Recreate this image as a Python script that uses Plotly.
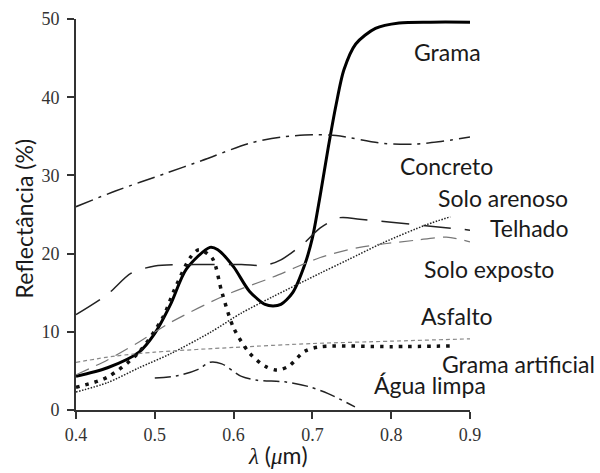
import plotly.graph_objects as go

# wavelength (um) / reflectance (%)
grama_x = [0.40, 0.44, 0.48, 0.50, 0.52, 0.54, 0.57, 0.58, 0.60, 0.62, 0.64, 0.65, 0.66, 0.675, 0.69, 0.70, 0.71, 0.72, 0.73, 0.74, 0.755, 0.78, 0.81, 0.85, 0.90]
grama_y = [4.3, 5.4, 7.4, 9.8, 13.5, 18.0, 20.8, 20.5, 18.3, 15.2, 13.5, 13.3, 13.5, 15.0, 18.5, 22.0, 27.5, 33.5, 39.0, 43.5, 46.8, 48.8, 49.5, 49.6, 49.6]

concreto_x = [0.40, 0.45, 0.515, 0.56, 0.62, 0.66, 0.70, 0.73, 0.79, 0.83, 0.86, 0.90]
concreto_y = [26.0, 28.0, 30.3, 31.9, 34.1, 34.9, 35.2, 35.1, 34.1, 34.0, 34.3, 34.9]

telhado_x = [0.40, 0.44, 0.47, 0.50, 0.55, 0.61, 0.64, 0.66, 0.69, 0.71, 0.735, 0.76, 0.80, 0.85, 0.90]
telhado_y = [12.2, 14.8, 17.5, 18.4, 18.6, 18.6, 18.5, 19.2, 21.4, 23.3, 24.6, 24.4, 24.0, 23.5, 23.0]

solo_arenoso_x = [0.40, 0.44, 0.48, 0.52, 0.57, 0.61, 0.65, 0.71, 0.745, 0.79, 0.845, 0.875]
solo_arenoso_y = [2.3, 3.5, 5.4, 7.2, 9.9, 12.4, 14.5, 17.5, 19.2, 21.4, 23.7, 24.7]

solo_exposto_x = [0.40, 0.44, 0.48, 0.52, 0.59, 0.65, 0.71, 0.76, 0.83, 0.87, 0.90]
solo_exposto_y = [4.5, 6.4, 8.7, 11.2, 14.7, 17.0, 19.5, 20.8, 21.7, 22.1, 21.5]

asfalto_x = [0.40, 0.45, 0.50, 0.60, 0.70, 0.80, 0.90]
asfalto_y = [6.1, 6.9, 7.4, 8.0, 8.5, 8.8, 9.1]

grama_art_x = [0.40, 0.44, 0.48, 0.51, 0.525, 0.545, 0.556, 0.573, 0.585, 0.60, 0.62, 0.64, 0.655, 0.67, 0.69, 0.71, 0.80, 0.88]
grama_art_y = [2.9, 4.2, 7.4, 11.8, 15.4, 19.5, 20.5, 19.4, 15.1, 10.5, 7.3, 5.6, 5.1, 5.6, 7.5, 8.1, 8.1, 8.2]

agua_x = [0.50, 0.53, 0.555, 0.57, 0.585, 0.61, 0.63, 0.665, 0.695, 0.72, 0.754]
agua_y = [4.1, 4.4, 5.2, 6.1, 5.9, 4.3, 3.8, 3.6, 3.0, 2.1, 0.4]

# label text and where it sits (um, %)
label_text = ['Grama', 'Concreto', 'Solo arenoso', 'Telhado', 'Solo exposto',
              'Asfalto', 'Grama artificial', 'Água limpa']
label_x = [0.872, 0.870, 0.942, 0.976, 0.924, 0.883, 0.961, 0.849]
label_y = [45.8, 31.2, 27.1, 23.3, 18.0, 12.0, 5.9, 3.2]

x_range = [0.4, 0.9]
y_range = [0, 50]

series = [
    (grama_x, grama_y, dict(color='black', width=3)),
    (concreto_x, concreto_y, dict(color='#222', width=1.5, dash='18px,6px,3px,6px')),
    (telhado_x, telhado_y, dict(color='#222', width=1.5, dash='28px,14px')),
    (solo_arenoso_x, solo_arenoso_y, dict(color='#222', width=1.5, dash='1.5px,1.5px')),
    (solo_exposto_x, solo_exposto_y, dict(color='#777', width=1.2, dash='14px,8px')),
    (asfalto_x, asfalto_y, dict(color='#888', width=1.2, dash='4px,3px')),
    (grama_art_x, grama_art_y, dict(color='#111', width=3.5, dash='3.5px,6px')),
    (agua_x, agua_y, dict(color='#222', width=1.5, dash='16px,5px,3px,5px')),
]

fig = go.Figure()
for xs, ys, ln in series:
    fig.add_trace(go.Scatter(x=xs, y=ys, mode='lines', line=dict(shape='spline', smoothing=0.8, **ln),
                             showlegend=False, hoverinfo='skip'))

label_font = dict(family='Lato', size=23, color='#1a1a1a')
for t, lx, ly in zip(label_text, label_x, label_y):
    # labels run past the right end of the axis, so place them in domain units
    fig.add_annotation(x=(lx - x_range[0]) / (x_range[1] - x_range[0]), xref='x domain',
                       y=(ly - y_range[0]) / (y_range[1] - y_range[0]), yref='y domain',
                       text=t, showarrow=False, xanchor='center', yanchor='middle', font=label_font)

# axis titles
fig.add_annotation(x=-0.132, y=0.49, xref='paper', yref='paper', text='Reflectância (%)',
                   textangle=-90, showarrow=False, xanchor='center', yanchor='middle', font=label_font)
fig.add_annotation(x=0.513, y=-0.115, xref='paper', yref='paper',
                   text='<span style="font-family:Liberation Serif"><i>λ</i></span> '
                        '(<span style="font-family:Liberation Serif"><i>μ</i></span>m)',
                   showarrow=False, xanchor='center', yanchor='middle', font=label_font)

axis_common = dict(showline=True, linecolor='#333', linewidth=2, ticks='outside', ticklen=7,
                   tickwidth=2, tickcolor='#333', showgrid=False, zeroline=False, automargin=False,
                   tickfont=dict(family='Liberation Serif', size=18, color='#333'))

fig.update_xaxes(range=x_range, tickvals=[0.4, 0.5, 0.6, 0.7, 0.8, 0.9],
                 ticktext=['0.4', '0.5', '0.6', '0.7', '0.8', '0.9'], **axis_common)
fig.update_yaxes(range=y_range, tickvals=[0, 10, 20, 30, 40, 50], ticklabelstandoff=4, **axis_common)

fig.update_layout(width=600, height=473, margin=dict(l=76, r=130, t=19, b=63),
                  plot_bgcolor='white', paper_bgcolor='white')

fig.write_html("out.html", config={'displayModeBar': False},
               post_script="document.body.style.margin='0px';")
